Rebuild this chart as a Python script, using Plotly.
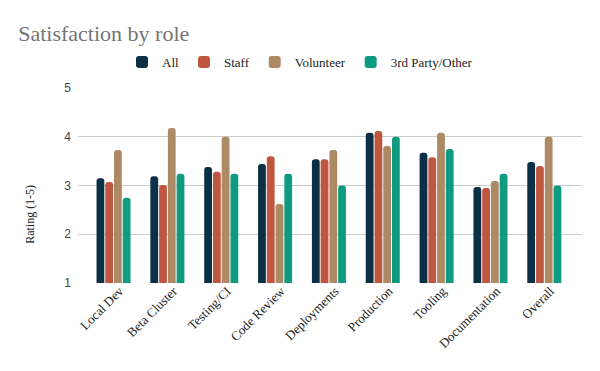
import plotly.graph_objects as go

categories = ["Local Dev", "Beta Cluster", "Testing/CI", "Code Review", "Deployments",
              "Production", "Tooling", "Documentation", "Overall"]
all_vals = [3.15, 3.19, 3.38, 3.44, 3.54, 4.08, 3.67, 2.97, 3.48]
staff_vals = [3.07, 3.01, 3.28, 3.60, 3.54, 4.12, 3.58, 2.95, 3.40]
volunteer_vals = [3.73, 4.18, 4.00, 2.62, 3.73, 3.81, 4.08, 3.09, 4.00]
third_vals = [2.75, 3.24, 3.24, 3.24, 3.00, 4.00, 3.75, 3.24, 3.00]

series = [
    ("All", all_vals, "#0b2f45"),
    ("Staff", staff_vals, "#bf5740"),
    ("Volunteer", volunteer_vals, "#ad8964"),
    ("3rd Party/Other", third_vals, "#0f9a82"),
]

serif = "Georgia, 'Liberation Serif', 'DejaVu Serif', serif"
sans = "Arial, 'Liberation Sans', sans-serif"

fig = go.Figure()
for name, vals, color in series:
    fig.add_trace(go.Bar(x=categories, y=vals, name=name, marker_color=color,
                         marker_line_width=0))

fig.update_layout(
    width=600, height=371,
    margin=dict(l=70, r=26, t=80, b=96),
    paper_bgcolor="white", plot_bgcolor="white",
    font=dict(family=serif, color="#222222", size=12),
    title=dict(text="Satisfaction by role", xref="container", x=0.017, xanchor="left",
               yref="container", y=0.933, yanchor="middle",
               font=dict(family=serif, size=22, color="#757575")),
    legend=dict(orientation="h", xref="container", x=0.19, xanchor="left",
                yref="container", y=0.854, yanchor="middle",
                font=dict(family=serif, size=13, color="#222222"),
                itemwidth=30, traceorder="normal"),
    barmode="group", bargap=0.35, bargroupgap=0.11,
    barcornerradius=3,
    xaxis=dict(range=[-0.66, 8.70], tickangle=-45, showgrid=False, showline=False,
               ticks="", automargin=False, ticklabelshift=6, ticklabelstandoff=-3,
               tickfont=dict(family=serif, size=13, color="#222222")),
    yaxis=dict(range=[1, 5], tickvals=[1, 2, 3, 4, 5], showgrid=True, gridcolor="#cccccc",
               gridwidth=1, zeroline=False, showline=False, ticks="", automargin=False,
               ticklabelstandoff=6,
               tickfont=dict(family=sans, size=12, color="#444444")),
    annotations=[dict(text="Rating (1-5)", xref="paper", yref="paper",
                      x=-0.095, y=0.35, xanchor="center", yanchor="middle",
                      textangle=-90, showarrow=False,
                      font=dict(family=serif, size=12, color="#222222"))],
)

fig.write_html("out.html")
